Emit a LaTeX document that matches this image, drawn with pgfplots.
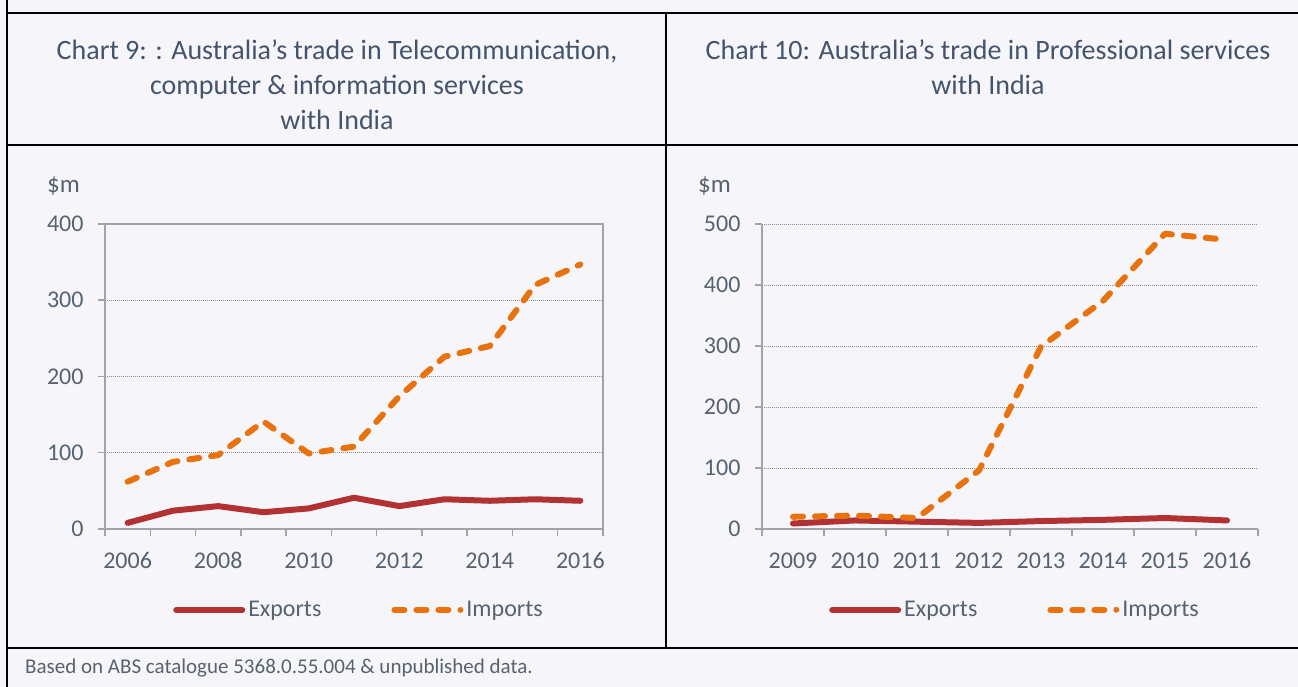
\documentclass[border=0pt]{standalone}
\usepackage{fontspec}
\setmainfont{Carlito}
\usepackage{pgfplots}
\pgfplotsset{compat=1.18}
\definecolor{bg}{HTML}{F6F6FA}
\definecolor{expc}{HTML}{B23234}
\definecolor{impc}{HTML}{E8730E}
\definecolor{axc}{HTML}{A3A3A3}
\definecolor{txt}{HTML}{56636F}
\definecolor{ttl}{HTML}{44546A}

\pgfplotstableread{
year exp imp
2006 8 62
2007 24 88
2008 30 97
2009 22 141
2010 27 99
2011 41 108
2012 30 174
2013 39 226
2014 37 240
2015 39 320
2016 37 347
}\telecom
\pgfplotstableread{
year exp imp
2009 9 20
2010 14 22
2011 12 18
2012 10 96
2013 13 299
2014 15 374
2015 18 484
2016 14 474
}\profserv

\pgfplotsset{
 common/.style={
  scale only axis,
  height=305pt,
  ymin=0,
  axis line style={axc, line width=1.5pt},
  tick style={axc, line width=1.5pt},
  major tick length=7pt,
  tick align=outside,
  xtick pos=bottom, ytick pos=left,
  ymajorgrids,
  grid style={black!45, line width=0.8pt, dash pattern=on 0.9pt off 1.1pt},
  ticklabel style={font=\fontsize{24}{28}\selectfont, text=txt},
  /pgf/number format/assume math mode=true,
  /pgf/number format/1000 sep={},
  xticklabels={},
  extra x tick style={major tick length=0pt, grid=none, xticklabel style={yshift=-20pt}},
  yticklabel style={xshift=-11pt},
  clip=false,
  legend style={anchor=center, legend columns=2, draw=none, fill=none,
    font=\fontsize{24}{28}\selectfont, text=txt,
    /tikz/every even column/.append style={column sep=67pt},
    nodes={inner sep=3pt}},
  legend image code/.code={\draw[##1] (3pt,0pt) -- (69pt,0pt);},
 },
 exp/.style={expc, line width=6pt, line join=round, line cap=round},
 imp/.style={impc, line width=6pt, line join=round, line cap=round, dash pattern=on 10pt off 12pt},
}

\begin{document}
\begin{tikzpicture}[x=1pt,y=1pt]
\fill[bg] (0,0) rectangle (1298,687);
\useasboundingbox (0,0) rectangle (1298,687);

% frame
\draw[black, line width=2pt] (7,687) -- (7,674) -- (1298,674);
\draw[black, line width=2pt] (7,674) -- (7,0);
\draw[black, line width=2pt] (666,674) -- (666,39);
\draw[black, line width=2pt] (7,542) -- (1298,542);
\draw[black, line width=2pt] (7,39) -- (1298,39);

% titles
\begin{scope}[every node/.style={text=ttl, font=\fontsize{28}{34}\selectfont, anchor=mid}]
\node at (337,630) {Chart 9: : Australia’s trade in Telecommunication,};
\node at (337,595) {computer \& information services};
\node at (337,560) {with India};
\node at (988,630) {Chart 10: Australia’s trade in Professional services};
\node at (988,595) {with India};
\end{scope}

% units
\node[text=txt, font=\fontsize{25}{29}\selectfont, anchor=mid west, inner sep=0pt] at (47,497) {\$m};
\node[text=txt, font=\fontsize{25}{29}\selectfont, anchor=mid west, inner sep=0pt] at (698,497) {\$m};

% footnote
\node[text=txt, font=\fontsize{21}{25}\selectfont, anchor=mid west, inner sep=0pt] at (25,16) {Based on ABS catalogue 5368.0.55.004 \& unpublished data.};

\begin{axis}[common,
  at={(105pt,158pt)}, anchor=south west,
  width=498pt,
  xmin=2005.5, xmax=2016.5,
  ymax=400, ytick={0,100,200,300,400},
  xtick={2005.5,2006.5,...,2016.5},
  extra x ticks={2006,2008,2010,2012,2014,2016},
  legend style={at={(0.511,-0.265)}},
]
\addplot[exp] table[x=year, y=exp] {\telecom};
\addlegendentry{Exports}
\addplot[imp] table[x=year, y=imp] {\telecom};
\addlegendentry{Imports}
\end{axis}

\begin{axis}[common,
  at={(762pt,158pt)}, anchor=south west,
  width=496pt,
  axis x line*=bottom, axis y line*=left,
  tick align=outside,
  xmin=2008.5, xmax=2016.5,
  ymax=500, ytick={0,100,200,300,400,500},
  xtick={2008.5,2009.5,...,2016.5},
  extra x ticks={2009,2010,...,2016},
  legend style={at={(0.511,-0.265)}},
]
\addplot[exp] table[x=year, y=exp] {\profserv};
\addlegendentry{Exports}
\addplot[imp] table[x=year, y=imp] {\profserv};
\addlegendentry{Imports}
\end{axis}
\end{tikzpicture}
\end{document}
